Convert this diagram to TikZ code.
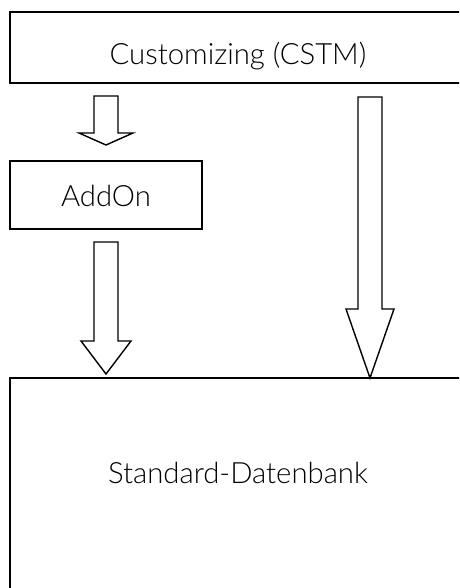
\documentclass[tikz,border=0pt]{standalone}
\usepackage{fontspec}
\setmainfont{Lato Light}
\usetikzlibrary{positioning,calc}
\tikzset{
  layerbox/.style={draw=black,line width=1.9pt,rectangle,outer sep=0pt,
    inner xsep=0pt,inner ysep=8pt,align=center,
    font=\fontsize{29.3}{35}\selectfont},
  hollow/.style={draw=black,line width=1.4pt,fill=white,line join=miter},
}
% hollow block arrow: top, tip, half shaft, half head, head length
\newcommand{\hollowarrow}[5]{%
  \draw[hollow] let \p1=(#1), \p2=(#2) in
    (\x1-#3,\y1) -- (\x1+#3,\y1) -- (\x1+#3,\y2+#5) -- (\x1+#4,\y2+#5)
    -- (\x1,\y2) -- (\x1-#4,\y2+#5) -- (\x1-#3,\y2+#5) -- cycle;}

\begin{document}
\begin{tikzpicture}[x=1pt,y=-1pt]
  \useasboundingbox (0,0) rectangle (459,588);
  \clip (0,0) rectangle (459,588);

  \node[layerbox,minimum width=456pt,text height=45pt,text depth=10pt] (cstm) at (238,47.5) {Customizing (CSTM)};
  \node[layerbox,minimum width=192pt,text height=37pt,text depth=15pt,below=78pt of cstm.south west,anchor=north west] (addon) {AddOn};
  \node[layerbox,minimum width=456pt,text height=97pt,text depth=129pt,below=149pt of addon.south west,anchor=north west] (db) {Standard-Datenbank};

  \coordinate (atop) at ($(addon.north |- cstm.south)+(0,13)$);
  \coordinate (atip) at ($(addon.north)+(0,-16)$);
  \coordinate (btop) at ($(addon.south)+(0,13)$);
  \coordinate (btip) at ($(addon.south |- db.north)+(0,-4)$);
  \coordinate (ctop) at ($(cstm.south east)+(-96,14)$);
  \coordinate (ctip) at ($(db.north east)+(-96,0)$);

  \hollowarrow{atop}{atip}{12pt}{27pt}{12pt}
  \hollowarrow{btop}{btip}{12pt}{25pt}{33pt}
  \hollowarrow{ctop}{ctip}{12pt}{24pt}{69pt}
\end{tikzpicture}
\end{document}
